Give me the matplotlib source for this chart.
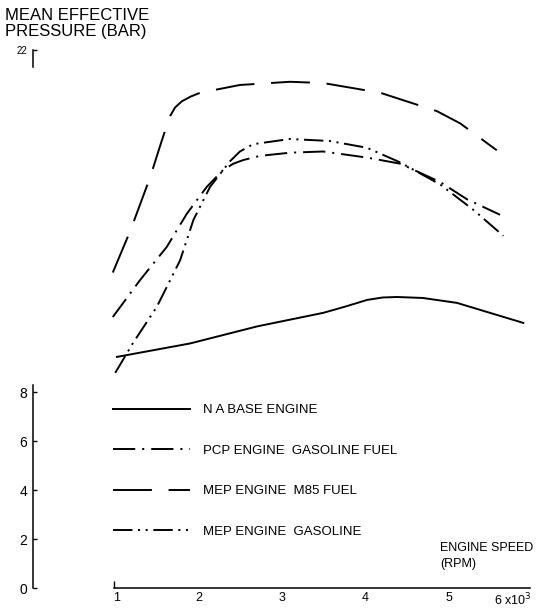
import matplotlib
matplotlib.use('Agg')
import matplotlib.pyplot as plt

plt.rcParams['font.family'] = ['Liberation Sans', 'DejaVu Sans']
plt.rcParams['lines.scale_dashes'] = False

# engine speed (x1000 rpm) and mean effective pressure (bar)
base_x = [1.01, 1.89, 2.7, 3.49, 3.75, 4.02, 4.21, 4.38, 4.69, 5.1, 5.5, 5.9]
base_y = [9.45, 10.0, 10.7, 11.25, 11.5, 11.78, 11.88, 11.9, 11.86, 11.66, 11.25, 10.84]

pcp_x = [0.96, 1.29, 1.61, 1.85, 2.09, 2.29, 2.41, 2.53, 2.73, 3.09, 3.49, 4.02, 4.42, 4.9, 5.22, 5.62]
pcp_y = [11.08, 12.6, 13.95, 15.3, 16.4, 17.1, 17.35, 17.5, 17.67, 17.8, 17.85, 17.6, 17.35, 16.6, 15.9, 15.26]

m85_x = [0.96, 1.17, 1.41, 1.55, 1.65, 1.71, 1.79, 1.9, 2.01, 2.49, 3.09, 3.49, 4.18, 4.86, 5.14, 5.58]
m85_y = [12.9, 14.6, 16.8, 18.3, 19.3, 19.65, 19.9, 20.1, 20.25, 20.57, 20.7, 20.65, 20.25, 19.5, 19.0, 17.9]

gas_x = [0.99, 1.2, 1.49, 1.77, 1.93, 2.13, 2.37, 2.49, 2.65, 3.09, 3.57, 4.02, 4.42, 4.9, 5.3, 5.66]
gas_y = [8.8, 10.0, 11.5, 13.4, 15.05, 16.4, 17.45, 17.85, 18.15, 18.36, 18.28, 18.0, 17.4, 16.5, 15.46, 14.4]

labels = ['N A BASE ENGINE', 'PCP ENGINE  GASOLINE FUEL', 'MEP ENGINE  M85 FUEL', 'MEP ENGINE  GASOLINE']
x_ticks = [1, 2, 3, 4, 5, 6]
x_ticklabels = ['1', '2', '3', '4', '5', '6 x10$^3$']
y_ticks = [0, 2, 4, 6, 8, 22]
y_ticklabels = ['0', '2', '4', '6', '8', '22']

W, H = 537, 610
fig = plt.figure(figsize=(W / 100, H / 100), dpi=100)
ax = fig.add_axes([33 / W, (H - 588) / H, 502.8 / W, 538 / H])
ax.set_xlim(0, 6.05)
ax.set_ylim(0, 22)

lw = 1.4
l1, = ax.plot(base_x, base_y, color='black', lw=lw, label=labels[0])
l2, = ax.plot(pcp_x, pcp_y, color='black', lw=lw, linestyle=(0, (16, 5, 1.5, 5)), label=labels[1])
l3, = ax.plot(m85_x, m85_y, color='black', lw=lw, linestyle=(0, (28, 12)), label=labels[2])
l4, = ax.plot(gas_x, gas_y, color='black', lw=lw, linestyle=(0, (14, 4, 1.5, 4, 1.5, 4)), label=labels[3])

# axes: broken left axis, bottom axis from 1 to 6
for s in ['top', 'right']:
    ax.spines[s].set_visible(False)
ax.spines['left'].set_bounds(0, 8.3)
ax.spines['bottom'].set_bounds(0.98, 5.98)
ax.spines['left'].set_linewidth(1.1)
ax.spines['bottom'].set_linewidth(1.1)
ax.plot([0, 0], [21.3, 22], color='black', lw=1.1, clip_on=False)

ax.set_yticks(y_ticks)
ax.set_yticklabels(y_ticklabels)
ax.tick_params(axis='y', direction='in', length=3, width=1, pad=4, labelsize=10)
ax.get_yticklabels()[-1].set_fontsize(7)

ax.set_xticks(x_ticks)
ax.set_xticklabels(x_ticklabels)
ax.tick_params(axis='x', length=0, pad=3, labelsize=9)
ax.get_xticklabels()[-1].set_horizontalalignment('right')
ax.set_xticks([0.98], minor=True)
ax.tick_params(axis='x', which='minor', direction='in', length=5, width=1)

ax.legend(handles=[l1, l2, l3, l4], loc='upper left', frameon=False,
          bbox_to_anchor=(113 / W, (H - 404) / H), bbox_transform=fig.transFigure,
          borderpad=0, borderaxespad=0, handlelength=5.8, handletextpad=1.0,
          labelspacing=2.15, fontsize=9.5)

fig.text(5 / W, 1 - 8 / H, 'MEAN EFFECTIVE\nPRESSURE (BAR)', va='top', ha='left',
         fontsize=12, linespacing=1.1)
fig.text(440 / W, 1 - 542 / H, 'ENGINE SPEED\n(RPM)', va='top', ha='left',
         fontsize=9, linespacing=1.4)

fig.savefig('out.png', dpi=100)
